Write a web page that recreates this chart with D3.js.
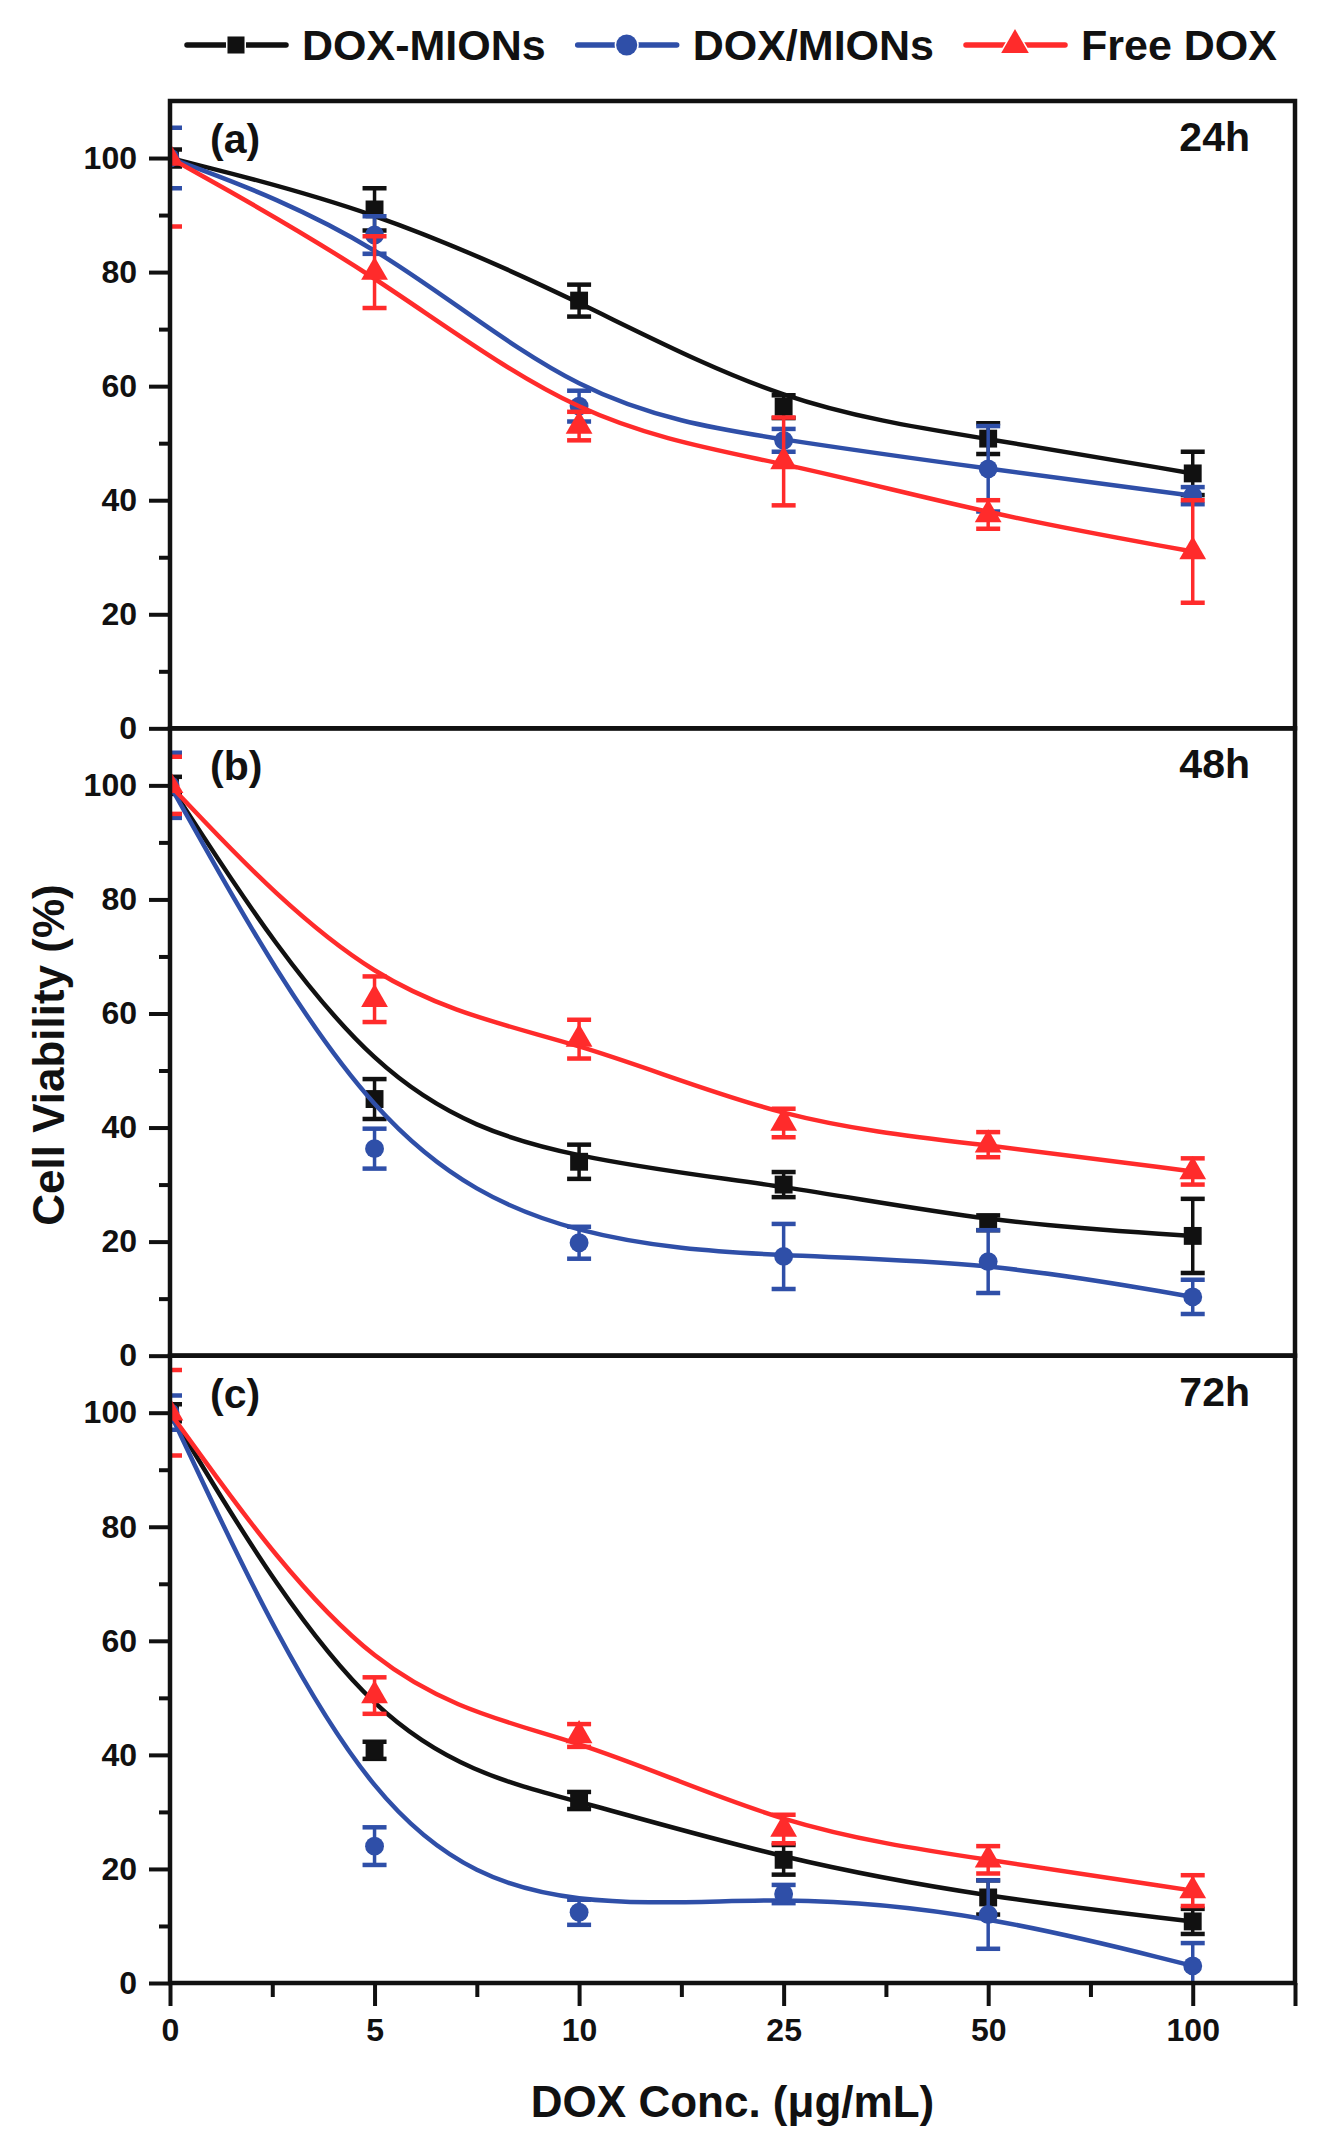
<!DOCTYPE html>
<html>
<head>
<meta charset="utf-8">
<script src="https://cdn.jsdelivr.net/npm/d3@7"></script>
<style>
	body { margin: 0; background: #fff; }
	svg { display: block; }
	text { font-family: "Liberation Sans", Arial, sans-serif; font-weight: bold; fill: #111; }
</style>
</head>
<body>
<svg id="chart"></svg>
<script>
/*
 * Cell viability vs DOX concentration, three stacked panels (24h, 48h, 72h).
 */

/* Categories on the x axis (evenly spaced, not a linear scale) */
var doses = ["0", "5", "10", "25", "50", "100"];

/* Series names, panel tags and time labels */
var seriesNames = ["DOX-MIONs", "DOX/MIONs", "Free DOX"];
var panelTags = ["(a)", "(b)", "(c)"];
var panelTimes = ["24h", "48h", "72h"];
var yTicks = [0, 20, 40, 60, 80, 100];

/* 24h values (mean and error) */
var mionsA = [100, 91, 75, 56.4, 50.8, 44.7];
var mionsErrA = [1.5, 3.7, 2.8, 2, 2.7, 3.8];
var mixA = [100, 86.5, 56.5, 50.5, 45.5, 40.8];
var mixErrA = [5.3, 3.3, 2.7, 2, 7.5, 1.5];
var freeA = [100, 80, 53, 46.8, 37.5, 31];
var freeErrA = [12, 6.3, 2.5, 7.7, 2.5, 9];

/* 48h values */
var mionsB = [100, 45, 34, 30, 23.3, 21];
var mionsErrB = [1.5, 3.5, 3, 2.2, 1.3, 6.5];
var mixB = [100, 36.3, 19.8, 17.4, 16.5, 10.3];
var mixErrB = [5.7, 3.5, 2.8, 5.7, 5.5, 3];
var freeB = [100, 62.5, 55.5, 40.8, 37, 32.3];
var freeErrB = [5, 4, 3.4, 2.5, 2.2, 2.3];

/* 72h values */
var mionsC = [100, 40.8, 32, 21.6, 15, 10.8];
var mionsErrC = [1.5, 1.5, 1.5, 2.6, 3, 2.2];
var mixC = [100, 24, 12.4, 15.6, 12, 3];
var mixErrC = [3, 3.3, 2.2, 1.6, 6, 4];
var freeC = [100, 50.4, 43.4, 27, 21.6, 16.2];
var freeErrC = [7.5, 3.2, 2, 2.5, 2.4, 2.7];

/* Look of each series */
var colors = ["#111111", "#2f4fa8", "#ff2b2b"];
var symbols = [d3.symbolSquare, d3.symbolCircle, d3.symbolTriangle];
var symbolSizes = [320, 280, 310];

/* Panel data built from the arrays above */
var panels = [
	{ tag: panelTags[0], time: panelTimes[0],
	  means: [mionsA, mixA, freeA], errs: [mionsErrA, mixErrA, freeErrA] },
	{ tag: panelTags[1], time: panelTimes[1],
	  means: [mionsB, mixB, freeB], errs: [mionsErrB, mixErrB, freeErrB] },
	{ tag: panelTags[2], time: panelTimes[2],
	  means: [mionsC, mixC, freeC], errs: [mionsErrC, mixErrC, freeErrC] }
];

/* Layout */
var width = 1318, height = 2155;
var plotLeft = 170, plotRight = 1295, plotTop = 101, plotBottom = 1983;
var panelH = (plotBottom - plotTop) / panels.length;

var svg = d3.select("#chart")
	.attr("width", width)
	.attr("height", height);

/* x is the index of the dose, axis runs half a step past the last one */
var x = d3.scaleLinear()
	.domain([0, doses.length - 0.5])
	.range([plotLeft, plotRight]);

/* Draw one panel */
function drawPanel(p, i) {
	var y0 = plotTop + i * panelH;
	var y1 = y0 + panelH;
	var y = d3.scaleLinear().domain([0, 110]).range([y1, y0]);

	var g = svg.append("g").attr("class", "panel");

	// clip for curves and error bars
	var clipId = "clip" + i;
	svg.append("clipPath")
		.attr("id", clipId)
		.append("rect")
		.attr("x", plotLeft)
		.attr("y", y0)
		.attr("width", plotRight - plotLeft)
		.attr("height", panelH);

	// major y ticks with labels
	var yAxis = g.append("g")
		.attr("transform", "translate(" + plotLeft + ",0)")
		.call(d3.axisLeft(y).tickValues(yTicks).tickSize(21).tickPadding(12));
	// minor y ticks
	var yMinor = g.append("g")
		.attr("transform", "translate(" + plotLeft + ",0)")
		.call(d3.axisLeft(y).tickValues([10, 30, 50, 70, 90]).tickSize(11).tickFormat(""));
	[yAxis, yMinor].forEach(function(a) {
		a.select(".domain").remove();
		a.selectAll("line").attr("stroke", "#111").attr("stroke-width", 4);
	});
	yAxis.selectAll("text")
		.attr("font-size", 32)
		.attr("font-family", "'Liberation Sans', Arial, sans-serif")
		.attr("font-weight", "bold")
		.attr("fill", "#111");

	var plot = g.append("g").attr("clip-path", "url(#" + clipId + ")");

	var line = d3.line()
		.x(function(d, j) { return x(j); })
		.y(function(d) { return y(d); })
		.curve(d3.curveBasis);

	p.means.forEach(function(means, s) {
		var errs = p.errs[s];
		var color = colors[s];

		// smoothed curve
		plot.append("path")
			.datum(means)
			.attr("fill", "none")
			.attr("stroke", color)
			.attr("stroke-width", 4.5)
			.attr("d", line);

		// error bars
		var bars = plot.append("g").selectAll("g")
			.data(means)
			.join("g");
		bars.append("line")
			.attr("x1", function(d, j) { return x(j); })
			.attr("x2", function(d, j) { return x(j); })
			.attr("y1", function(d, j) { return y(d + errs[j]); })
			.attr("y2", function(d, j) { return y(d - errs[j]); })
			.attr("stroke", color)
			.attr("stroke-width", 3.5);
		[1, -1].forEach(function(sign) {
			bars.append("line")
				.attr("x1", function(d, j) { return x(j) - 12; })
				.attr("x2", function(d, j) { return x(j) + 12; })
				.attr("y1", function(d, j) { return y(d + sign * errs[j]); })
				.attr("y2", function(d, j) { return y(d + sign * errs[j]); })
				.attr("stroke", color)
				.attr("stroke-width", 4.5);
		});

		// markers
		plot.append("g").selectAll("path")
			.data(means)
			.join("path")
			.attr("transform", function(d, j) { return "translate(" + x(j) + "," + y(d) + ")"; })
			.attr("d", d3.symbol().type(symbols[s]).size(symbolSizes[s]))
			.attr("fill", color);
	});

	// frame
	g.append("rect")
		.attr("x", plotLeft)
		.attr("y", y0)
		.attr("width", plotRight - plotLeft)
		.attr("height", panelH)
		.attr("fill", "none")
		.attr("stroke", "#111")
		.attr("stroke-width", 4.5);

	// panel tag and time
	g.append("text")
		.attr("x", plotLeft + 40)
		.attr("y", y0 + 52)
		.attr("font-size", 41)
		.text(p.tag);
	g.append("text")
		.attr("x", plotRight - 45)
		.attr("y", y0 + 50)
		.attr("text-anchor", "end")
		.attr("font-size", 41)
		.text(p.time);
}

panels.forEach(drawPanel);

/* x axis under the last panel */
var xAxis = svg.append("g")
	.attr("transform", "translate(0," + plotBottom + ")")
	.call(d3.axisBottom(x)
		.tickValues([0, 1, 2, 3, 4, 5, 5.5])
		.tickFormat(function(d) { return doses[d] || ""; })
		.tickSize(23)
		.tickPadding(12));
var xMinor = svg.append("g")
	.attr("transform", "translate(0," + plotBottom + ")")
	.call(d3.axisBottom(x).tickValues([0.5, 1.5, 2.5, 3.5, 4.5]).tickSize(14).tickFormat(""));
[xAxis, xMinor].forEach(function(a) {
	a.select(".domain").remove();
	a.selectAll("line").attr("stroke", "#111").attr("stroke-width", 4);
});
xAxis.selectAll("text")
	.attr("font-size", 32)
	.attr("font-family", "'Liberation Sans', Arial, sans-serif")
	.attr("font-weight", "bold")
	.attr("fill", "#111");

/* Axis titles */
svg.append("text")
	.attr("x", (plotLeft + plotRight) / 2)
	.attr("y", 2117)
	.attr("text-anchor", "middle")
	.attr("font-size", 44)
	.text("DOX Conc. (\u03bcg/mL)");

svg.append("text")
	.attr("transform", "translate(64,1055) rotate(-90)")
	.attr("text-anchor", "middle")
	.attr("font-size", 44)
	.text("Cell Viability (%)");

/* Legend across the top */
var legend = svg.append("g").attr("class", "legend");
var legendX = 184;
var legendSizes = [290, 350, 330];
seriesNames.forEach(function(name, s) {
	var item = legend.append("g").attr("transform", "translate(" + legendX + ",0)");
	item.append("line")
		.attr("x1", 3)
		.attr("x2", 102)
		.attr("y1", 45)
		.attr("y2", 45)
		.attr("stroke", colors[s])
		.attr("stroke-width", 5.5)
		.attr("stroke-linecap", "round");
	// marker with a thin white gap around it
	item.append("path")
		.attr("transform", "translate(52,45)")
		.attr("d", d3.symbol().type(symbols[s]).size(legendSizes[s]))
		.attr("fill", colors[s])
		.attr("stroke", "#fff")
		.attr("stroke-width", 3)
		.attr("paint-order", "stroke");
	var label = item.append("text")
		.attr("x", 118)
		.attr("y", 60)
		.attr("font-size", 43)
		.text(name);
	legendX += 118 + label.node().getComputedTextLength() + 29;
});
</script>
</body>
</html>
